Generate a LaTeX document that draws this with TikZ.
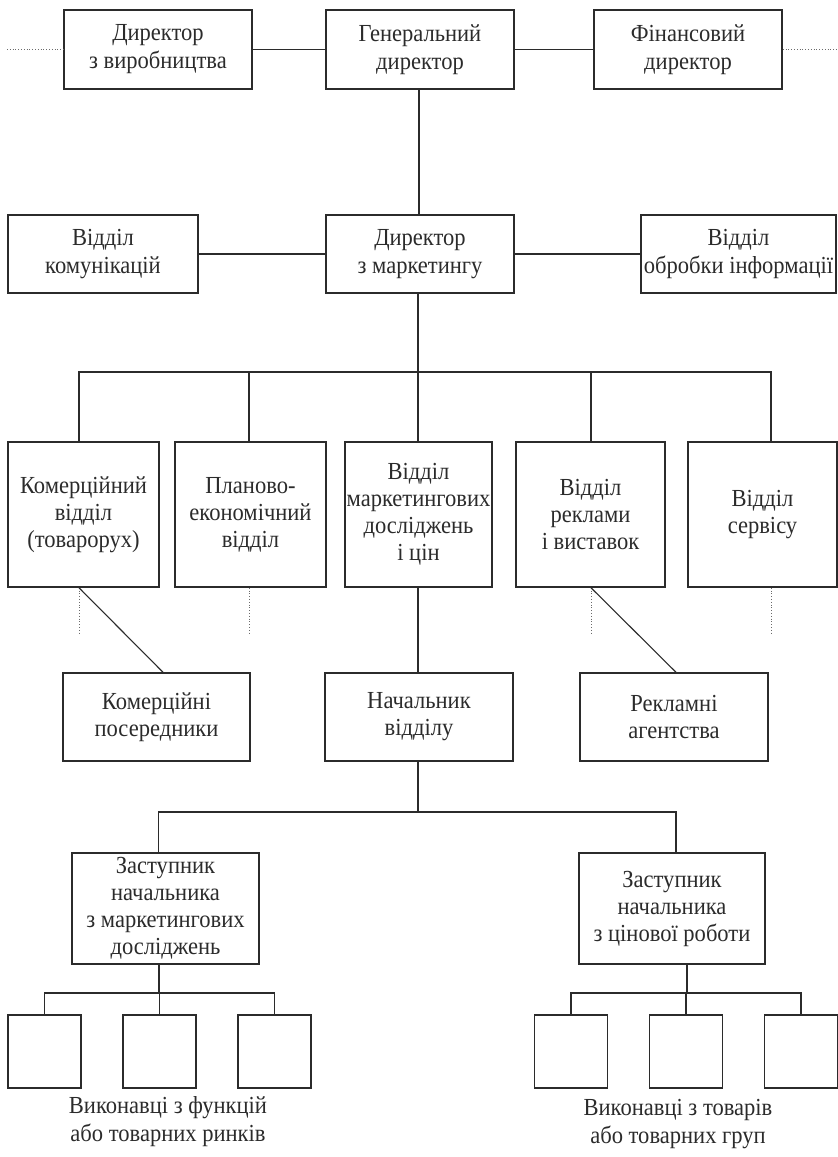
\documentclass[tikz,border=0pt]{standalone}
\usepackage{fontspec}
\setmainfont{Liberation Serif}[FakeStretch=0.92]
\definecolor{ink}{HTML}{2B2B2B}
\begin{document}
\begin{tikzpicture}[x=1pt,y=-1pt,
  box/.style={draw=ink, line width=1.5pt, align=center, inner sep=0pt,
    text=ink, font=\fontsize{24.5}{27}\selectfont},
  wide/.style={box, minimum height=79pt, font=\fontsize{24.5}{28}\selectfont},
  link/.style={draw=ink, line width=1.5pt},
  hint/.style={draw=ink!70, line width=0.8pt, dotted},
  caption/.style={align=center, text=ink, font=\fontsize{24.5}{28}\selectfont}]
\useasboundingbox (0,0) rectangle (838,1157);

% top management row
\node[wide, minimum width=188pt] (prod) at (158,49.5) {Директор\\з виробництва};
\node[wide, minimum width=188pt] (gen)  at (420,49.5) {Генеральний\\директор};
\node[wide, minimum width=188pt] (fin)  at (688,49.5) {Фінансовий\\директор};
\coordinate (lft) at (7,49.5);
\coordinate (rgt) at (836,49.5);

% marketing director row
\node[wide, minimum width=190pt, minimum height=78pt] (comm) at (103,254)   {Відділ\\комунікацій};
\node[wide, minimum width=188pt, minimum height=78pt] (mkt)  at (420,254)   {Директор\\з маркетингу};
\node[wide, minimum width=195pt, minimum height=78pt] (info) at (738.5,254) {Відділ\\обробки інформації};

% departments
\node[box, minimum width=151pt, minimum height=145pt] (d1) at (83.5,514.5)  {Комерційний\\відділ\\(товарорух)};
\node[box, minimum width=151pt, minimum height=145pt] (d2) at (250.5,514.5) {Планово-\\економічний\\відділ};
\node[box, minimum width=147pt, minimum height=145pt] (d3) at (418.5,514.5) {Відділ\\маркетингових\\досліджень\\і цін};
\node[box, minimum width=149pt, minimum height=145pt] (d4) at (590.5,514.5) {Відділ\\реклами\\і виставок};
\node[box, minimum width=149pt, minimum height=145pt] (d5) at (762.5,514.5) {Відділ\\сервісу};

% partners and head of department
\node[box, minimum width=187pt, minimum height=88pt] (cp)   at (156.5,717) {Комерційні\\посередники};
\node[box, minimum width=188pt, minimum height=88pt] (head) at (419,717)   {Начальник\\відділу};
\node[box, minimum width=188pt, minimum height=88pt] (ra)   at (674,717)   {Рекламні\\агентства};

% deputies
\node[box, minimum width=187pt, minimum height=111pt] (dep1) at (165.5,908.5) {Заступник\\начальника\\з маркетингових\\досліджень};
\node[box, minimum width=186pt, minimum height=111pt] (dep2) at (672,908.5)   {Заступник\\начальника\\з цінової роботи};

% executors
\foreach \n/\x in {e1/44.5, e2/159.5, e3/274.5, f1/571, f2/686, f3/801}
  \node[box, minimum width=73pt, minimum height=73pt] (\n) at (\x,1051.5) {};

\node[caption] (cap1) at (168,1122) {Виконавці з функцій\\або товарних ринків};
\node[caption] (cap2) at (678,1124) {Виконавці з товарів\\або товарних груп};

% top links
\draw[hint] (lft) -- (prod.west);
\draw[link] (prod.east) -- (gen.west);
\draw[link] (gen.east) -- (fin.west);
\draw[hint] (fin.east) -- (rgt);
\draw[link] ([xshift=-1pt]gen.south) -- ([xshift=-1pt]mkt.north);
\draw[link] (comm.east) -- (mkt.west);
\draw[link] (mkt.east) -- (info.west);

% department bus
\coordinate (bus) at (418,372);
\coordinate (t1) at ([xshift=-4.5pt]d1.north);
\coordinate (t2) at ([xshift=-1.5pt]d2.north);
\coordinate (t3) at ([xshift=-0.5pt]d3.north);
\coordinate (t4) at ([xshift=0.5pt]d4.north);
\coordinate (t5) at ([xshift=8.5pt]d5.north);
\draw[link] ([xshift=-2pt]mkt.south) -- (bus);
\draw[link] (t1) -- (t1 |- bus) -- (t5 |- bus) -- (t5);
\foreach \t in {t2,t3,t4} \draw[link] (\t) -- (\t |- bus);

% informal links below departments
\coordinate (b1) at ([xshift=-4.5pt]d1.south);
\coordinate (b2) at ([xshift=-1.5pt]d2.south);
\coordinate (b4) at ([xshift=0.5pt]d4.south);
\coordinate (b5) at ([xshift=8.5pt]d5.south);
\foreach \b in {b1,b2,b4,b5} \draw[hint] (\b) -- ++(0,46);
\draw[link, line width=1.1pt] (b1) -- ([xshift=6.5pt]cp.north);
\draw[link, line width=1.1pt] (b4) -- ([xshift=2pt]ra.north);
\coordinate (s3) at ([xshift=-0.5pt]d3.south);
\draw[link] (s3) -- (s3 |- head.north);

% deputies bus
\coordinate (bus2) at (418,812);
\coordinate (u1) at ([xshift=-7pt]dep1.north);
\coordinate (u2) at ([xshift=4pt]dep2.north);
\draw[link] ([xshift=-1pt]head.south) -- (bus2);
\draw[link] (u1) -- (u1 |- bus2) -- (u2 |- bus2) -- (u2);

% executors buses
\coordinate (v1) at ([xshift=-6.5pt]dep1.south);
\coordinate (v2) at ([xshift=15pt]dep2.south);
\coordinate (bus3) at (0,993);
\draw[link] (v1) -- (v1 |- bus3);
\draw[link] (e1.north) -- (e1.north |- bus3) -- (e3.north |- bus3) -- (e3.north);
\draw[link] (e2.north) -- (e2.north |- bus3);
\draw[link] (v2) -- (v2 |- bus3);
\draw[link] (f1.north) -- (f1.north |- bus3) -- (f3.north |- bus3) -- (f3.north);
\draw[link] (f2.north) -- (f2.north |- bus3);
\end{tikzpicture}
\end{document}
